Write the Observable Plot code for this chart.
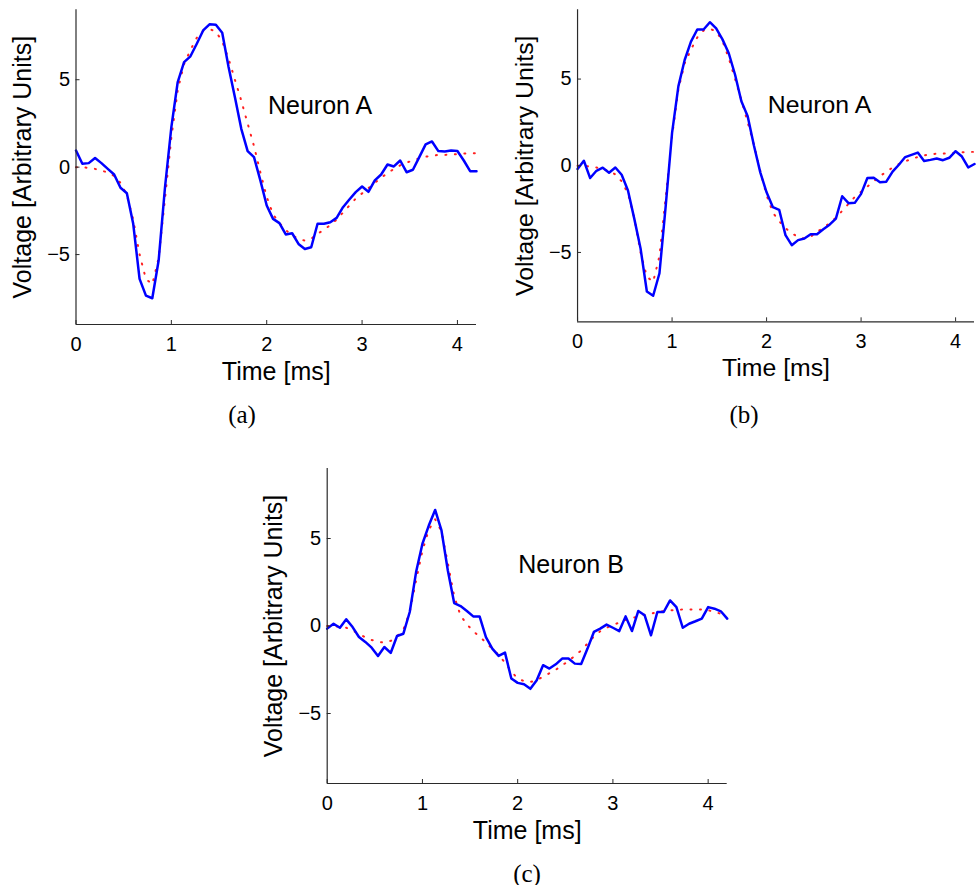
<!DOCTYPE html>
<html><head><meta charset="utf-8">
<script src="https://cdn.jsdelivr.net/npm/d3@7"></script>
<script src="https://cdn.jsdelivr.net/npm/@observablehq/plot@0.6"></script>
<style>
html,body{margin:0;padding:0;background:#fff;width:976px;height:885px;overflow:hidden;position:relative;font-family:"Liberation Sans",Arial,sans-serif}
.panel{position:absolute}
.cap{position:absolute;font-family:"Liberation Serif","DejaVu Serif",serif;font-size:25px;line-height:1;transform:translate(-50%,-50%);white-space:nowrap}
</style></head><body>
<div id="pa" class="panel" style="left:0;top:0"></div>
<div id="pb" class="panel" style="left:500px;top:0"></div>
<div id="pc" class="panel" style="left:250px;top:459px"></div>
<div class="cap" style="left:242px;top:414px">(a)</div>
<div class="cap" style="left:744px;top:414px">(b)</div>
<div class="cap" style="left:527px;top:873px">(c)</div>
<script>
// sample times (ms), 64 samples at 15 kHz
const nSamples = 64;
const sampleRateKHz = 15;
const times = d3.range(nSamples).map(k => k / sampleRateKHz);

const xTicks = [0, 1, 2, 3, 4];
const yTicks = [-5, 0, 5];
const xDomain = [0, 4.2];
const yDomain = [-9, 9];

// Neuron A template (red dotted)
const templateA = [0.0, 0.0, -0.05, -0.1, -0.2, -0.3, -0.5, -0.9, -1.6, -3.0,
  -5.0, -6.4, -6.7, -5.2, -1.8, 1.7, 4.4, 5.9, 6.7, 7.4,
  7.8, 7.9, 7.75, 7.2, 6.2, 5.0, 3.8, 2.5, 1.2, -0.3,
  -1.7, -2.7, -3.2, -3.6, -3.9, -4.1, -4.2, -4.1, -3.8, -3.6,
  -3.3, -3.0, -2.6, -2.2, -1.8, -1.5, -1.2, -0.9, -0.6, -0.35,
  -0.1, 0.1, 0.25, 0.4, 0.5, 0.6, 0.65, 0.7, 0.7, 0.72,
  0.75, 0.78, 0.8, 0.8];

// Panel (a) recorded spike (blue)
const spikeA1 = [0.95, 0.19, 0.23, 0.52, 0.23, -0.1, -0.42, -1.18, -1.49, -3.24,
  -6.39, -7.35, -7.5, -5.34, -1.15, 2.29, 4.87, 6.01, 6.34, 7.06,
  7.82, 8.17, 8.15, 7.69, 5.73, 4.0, 2.19, 0.92, 0.57, -0.76,
  -2.19, -2.96, -3.2, -3.85, -3.78, -4.39, -4.68, -4.58, -3.24, -3.24,
  -3.15, -2.9, -2.29, -1.85, -1.43, -1.11, -1.41, -0.76, -0.42, 0.15,
  0.04, 0.38, -0.29, -0.15, 0.57, 1.3, 1.47, 0.92, 0.9, 0.95,
  0.92, 0.38, -0.23, -0.23];

// Panel (b) recorded spike (blue)
const spikeA2 = [-0.19, 0.29, -0.71, -0.29, -0.11, -0.4, -0.1, -0.52, -1.43, -3.05,
  -4.77, -7.25, -7.5, -6.2, -2.29, 1.9, 4.58, 6.1, 7.16, 7.86,
  7.86, 8.28, 7.92, 7.29, 6.49, 5.25, 3.72, 2.86, 1.15, -0.38,
  -1.53, -2.39, -2.54, -4.0, -4.58, -4.29, -4.2, -3.95, -3.95, -3.66,
  -3.4, -3.05, -1.76, -2.16, -2.14, -1.62, -0.71, -0.69, -0.95, -0.92,
  -0.34, 0.06, 0.5, 0.63, 0.76, 0.27, 0.34, 0.42, 0.32, 0.46,
  0.84, 0.53, -0.1, 0.1];

// Neuron B template (red dotted)
const templateB = [0.0, 0.0, -0.05, -0.1, -0.25, -0.45, -0.65, -0.8, -0.9, -0.95,
  -0.85, -0.6, -0.2, 0.8, 2.6, 4.3, 5.5, 6.1, 5.4, 3.6,
  1.7, 0.6, 0.1, -0.3, -0.6, -0.95, -1.3, -1.65, -2.1, -2.6,
  -3.0, -3.15, -3.2, -3.1, -2.9, -2.7, -2.5, -2.25, -2.0, -1.7,
  -1.4, -1.0, -0.6, -0.3, -0.1, 0.05, 0.2, 0.35, 0.45, 0.55,
  0.65, 0.7, 0.8, 0.85, 0.9, 0.9, 0.95, 0.95, 0.95, 0.95,
  0.9, 0.8, 0.7, 0.65];

// Panel (c) recorded spike (blue)
const spikeB = [-0.15, 0.13, -0.1, 0.38, -0.06, -0.63, -0.91, -1.24, -1.71, -1.2,
  -1.54, -0.57, -0.44, 0.8, 3.08, 4.7, 5.74, 6.63, 5.46, 3.17,
  1.31, 1.14, 0.86, 0.55, 0.55, -0.63, -1.29, -1.71, -1.52, -3.0,
  -3.25, -3.33, -3.59, -3.1, -2.24, -2.43, -2.19, -1.86, -1.86, -2.15,
  -2.17, -1.29, -0.34, -0.15, 0.08, -0.1, -0.29, 0.55, -0.29, 0.86,
  0.61, -0.53, 0.8, 0.8, 1.46, 1.08, -0.1, 0.13, 0.27, 0.42,
  1.08, 0.99, 0.84, 0.42];

const annotations = [
  {x: 2.56, y: 3.5, label: "Neuron A"},
  {x: 2.56, y: 3.5, label: "Neuron A"},
  {x: 2.56, y: 3.5, label: "Neuron B"}
];

const axisColor = "#2a2a2a";
const fmt = d => d < 0 ? "\u2212" + Math.abs(d) : String(d);

function panel(blue, red, ann, dims) {
  const rows = times.map((t, i) => ({t, v: blue[i], m: red[i]}));
  return Plot.plot({
    width: dims.width, height: dims.height,
    marginLeft: dims.ml, marginRight: dims.mr, marginTop: dims.mt, marginBottom: dims.mb,
    style: {fontFamily: '"Liberation Sans", Arial, sans-serif', fontSize: "20px", color: "black", background: "transparent", overflow: "visible"},
    x: {domain: xDomain},
    y: {domain: yDomain},
    marks: [
      Plot.line(rows, {x: "t", y: "m", stroke: "#ff2020", strokeWidth: 2, strokeDasharray: "1,8.5"}),
      Plot.line(rows, {x: "t", y: "v", stroke: "#0000ff", strokeWidth: 2.5, strokeLinejoin: "round"}),
      Plot.ruleX([xDomain[0]], {stroke: axisColor, strokeWidth: 1.2}),
      Plot.ruleY([yDomain[0]], {stroke: axisColor, strokeWidth: 1.2}),
      Plot.axisX(xTicks, {tickSize: -4, tickPadding: 16, label: null, tickFormat: fmt, fontSize: 20, stroke: axisColor, fill: "black"}),
      Plot.axisY(yTicks, {tickSize: -4, tickPadding: 10, label: null, tickFormat: fmt, fontSize: 20, stroke: axisColor, fill: "black"}),
      Plot.text([ann], {x: "x", y: "y", text: "label", fontSize: 25, fill: "black"}),
      Plot.text(["Time [ms]"], {frameAnchor: "bottom", text: d => d, textAnchor: "middle", lineAnchor: "middle", dy: 47, fontSize: 25, fill: "black"}),
      Plot.text(["Voltage [Arbitrary Units]"], {frameAnchor: "left", text: d => d, textAnchor: "middle", lineAnchor: "middle", rotate: -90, dx: -53, fontSize: 25, fill: "black"})
    ]
  });
}

document.getElementById("pa").appendChild(panel(spikeA1, templateA, annotations[0],
  {width: 490, height: 400, ml: 75.5, mr: 14, mt: 9.3, mb: 76}));
document.getElementById("pb").appendChild(panel(spikeA2, templateA, annotations[1],
  {width: 480, height: 400, ml: 77.7, mr: 2, mt: 9.3, mb: 76}));
document.getElementById("pc").appendChild(panel(spikeB, templateB, annotations[2],
  {width: 490, height: 400, ml: 76.7, mr: 13.3, mt: 9, mb: 76}));
</script>
</body></html>
